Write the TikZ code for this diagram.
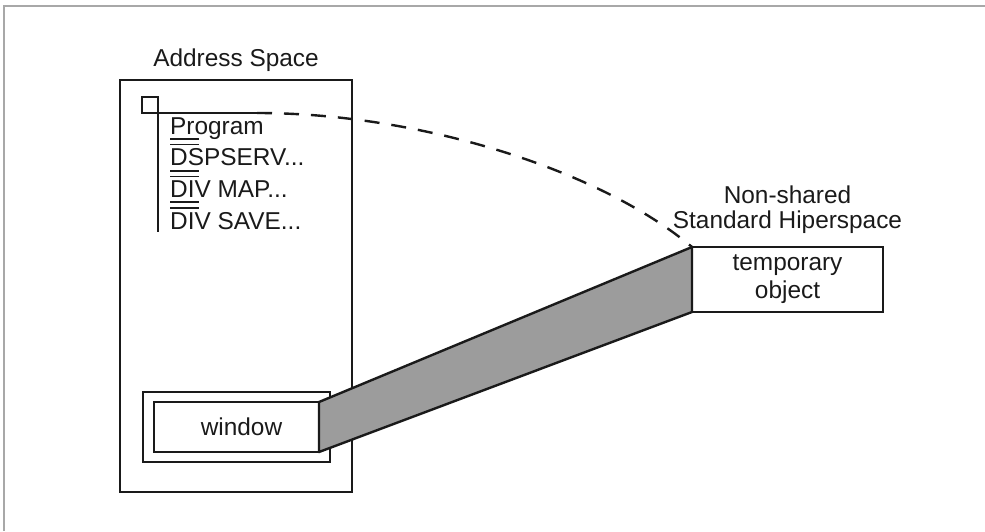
\documentclass[tikz,border=0pt]{standalone}
\usepackage{fontspec}
\setmainfont{Liberation Sans}
\usepackage{xcolor}
\usepackage{tikz}
\usetikzlibrary{positioning}
\definecolor{bandGray}{HTML}{9C9C9C}
\definecolor{frameGray}{HTML}{A8A8A8}
\definecolor{inkBlack}{HTML}{1A1A1A}

\begin{document}
\begin{tikzpicture}[
  x=1pt, y=-1pt,
  every node/.style={font=\fontsize{24.4}{29}\selectfont, text=inkBlack},
  box/.style={rectangle, draw=inkBlack, line width=2.6pt, inner sep=0pt, outer sep=0pt},
  item/.style={inner sep=0pt, anchor=base west},
  label/.style={inner sep=0pt, align=center},
  bar/.style={draw=inkBlack, line width=1.8pt},
  rule/.style={draw=inkBlack, line width=2.4pt},
  band/.style={draw=inkBlack, line width=2.4pt, fill=bandGray, line join=round},
  frame/.style={draw=frameGray, line width=1.5pt},
]
  \useasboundingbox (0,0) rectangle (985,531);
  \draw[frame] (4,531) -- (4,6) -- (985,6);

  \node[box, minimum width=232pt, minimum height=412pt] (aspace) at (236,286) {};
  \node[label, above=8pt of aspace] (atitle) {Address Space};

  \node[box, line width=2.2pt, minimum size=16pt] (sq) at (150,105) {};
  \draw[rule] (sq.south east) -- ++(0,119);
  \draw[rule] (sq.south east) -- ++(99,0) coordinate (dstart);

  \node[item] (prog) at (170,134) {Program};
  \node[item] (dsp) at ([yshift=-31.7pt]prog.base west) {DSPSERV...};
  \node[item] (divmap) at ([yshift=-31.7pt]dsp.base west) {DIV MAP...};
  \node[item] (divsave) at ([yshift=-31.7pt]divmap.base west) {DIV SAVE...};
  \foreach \n in {dsp, divmap, divsave} {
    \draw[bar] ([yshift=4pt]\n.north west) -- ++(29,0);
    \draw[bar] ([yshift=9.5pt]\n.north west) -- ++(29,0);
  }

  \node[box, minimum width=187pt, minimum height=70pt] (wout) at (236.5,427) {};
  \node[box, minimum width=165pt, minimum height=50pt] (win) at (wout) {\hspace*{10pt}window};

  \node[box, minimum width=191pt, minimum height=65pt, align=center,
        font=\fontsize{24.4}{28}\selectfont] (tmp) at (787.5,279.5) {temporary\\object};
  \node[label, above=13pt of tmp, font=\fontsize{24.4}{25}\selectfont] (hiper)
        {Non-shared\\Standard Hiperspace};

  \draw[band] (win.north east) -- (tmp.north west) -- (tmp.south west)
              -- (win.south east) -- cycle;
  \node[box, minimum width=191pt, minimum height=65pt] at (tmp) {};

  \draw[rule, dash pattern=on 15pt off 12pt]
    (dstart) .. controls +(163,0) and +(-92,-77) .. (tmp.north west);
\end{tikzpicture}
\end{document}
